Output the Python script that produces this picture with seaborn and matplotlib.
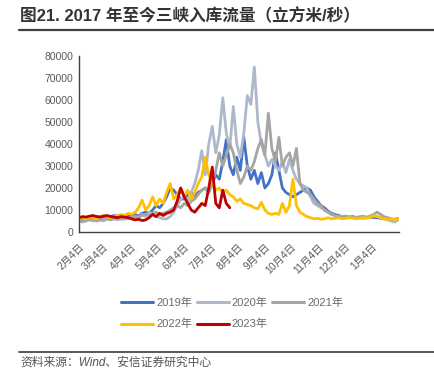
import numpy as np
import pandas as pd
import matplotlib
matplotlib.use("Agg")
import matplotlib.pyplot as plt
import seaborn as sns
from matplotlib.lines import Line2D

# ---------------- data (sampled every 4 days from Feb 4) ----------------
years = ["2019年", "2020年", "2021年", "2022年", "2023年"]
colors = ["#4472C4", "#ADB9CA", "#A5A5A5", "#FFC000", "#C00000"]
season_start = "2021-02-04"
season_end = "2022-02-04"

flow_2019 = [6000, 5500, 5800, 6200, 6500, 7000, 6800, 6300, 6500, 7000, 7500, 7200, 6800, 7000, 7300,
             7500, 8000, 7200, 8500, 9000, 8500, 10000, 12000, 11000, 13000,
             16000, 20000, 19000, 17000, 15000,
             15000, 17000, 18000, 16000, 18000, 19000, 20000, 18000, 22000, 26000, 24000,
             32000, 42000, 30000, 26000, 34000, 28000, 43000, 30000, 24000, 28000, 22000, 27000, 20000, 22000,
             26000, 36000, 28000, 20000, 18000, 17000, 16000, 17000, 18000, 19000, 20000, 19000, 16000, 14000,
             12000, 11000, 9500, 8500, 8000, 7500,
             7000, 7200, 6800, 7000, 6500, 6800, 7000, 6500, 6800, 6600, 6500, 6200, 6000, 6300, 5800, 5500, 6000]

flow_2020 = [5000, 4500, 5000, 5500, 5000, 6000, 5500, 5000, 6000, 6500, 6000, 5500, 6000, 5800, 6200,
             6500, 7000, 6500, 8000, 7000, 9000, 8000, 7000, 6500, 6000,
             6000, 7000, 9000, 12000, 15000,
             16000, 14000, 18000, 22000, 28000, 37000, 26000, 40000, 48000, 36000, 44000,
             61000, 45000, 38000, 57000, 40000, 34000, 45000, 62000, 58000, 75000, 50000, 40000, 35000, 30000,
             33000, 30000, 28000, 32000, 27000, 33000, 28000, 24000, 22000, 21000, 20000, 16000, 13000, 12000,
             11000, 10000, 9000, 8000, 7500, 7000,
             7200, 6800, 7000, 6500, 6800, 6500, 6200, 6500, 6800, 7200, 7000, 6500, 6000, 5500, 5000, 4500, 5500]

flow_2021 = [5500, 5000, 5200, 5800, 5500, 5000, 5500, 6000, 5800, 5500, 6000, 6300, 6000, 6500, 6200,
             6500, 7000, 6800, 7500, 8000, 7500, 8500, 9000, 8000, 8500,
             9000, 10000, 11000, 12000, 11000,
             13000, 12000, 14000, 15000, 17000, 19000, 20000, 18000, 22000, 28000, 36000,
             30000, 35000, 40000, 36000, 28000, 22000, 25000, 30000, 28000, 32000, 38000, 42000, 35000, 54000,
             38000, 32000, 43000, 30000, 34000, 36000, 30000, 38000, 22000, 19000, 18000, 17000, 15000, 13000,
             12000, 10000, 9000, 8000, 7500, 7000,
             6800, 7000, 6500, 6800, 6500, 6800, 7000, 6800, 7200, 8000, 9000, 8000, 7000, 6500, 6000, 5800, 6200]

flow_2022 = [6000, 6500, 6000, 7000, 6500, 6000, 7000, 7500, 7000, 6500, 7000, 7500, 8000, 7500, 8500,
             8000, 9000, 11000, 14500, 10000, 12000, 16000, 12000, 15000, 13000,
             18000, 22000, 15000, 17000, 20000,
             16000, 19000, 15000, 18000, 22000, 25000, 34000, 26000, 22000, 19000, 20000,
             18000, 19000, 17000, 16000, 14000, 15000, 13000, 12500, 12000, 11000, 10500, 13500, 10000, 8500,
             8000, 8500, 8000, 13000, 9000, 12000, 24000, 12000, 9000, 8000, 7000, 6500, 6000, 6200,
             5800, 6000, 6500, 6000, 6200, 6500,
             6000, 6200, 6500, 6300, 6000, 6200, 6500, 6300, 6800, 7500, 7000, 6500, 6000, 5800, 6000, 5500, 6000]

flow_2023 = [6500, 7000, 6800, 7200, 7500, 7000, 6800, 7200, 7500, 7000, 6800, 6500, 7000, 6800, 6500,
             6000, 5500, 5800, 5200, 5500, 6500, 8000, 7000, 8500, 7500,
             8500, 9000, 10000, 14000, 20000,
             16000, 13000, 10000, 9000, 11000, 13000, 12000, 20000, 29500, 13000, 11000,
             19000, 13000, 11000]

series = [flow_2019, flow_2020, flow_2021, flow_2022, flow_2023]

frames = []
for yr, vals in zip(years, series):
    dates = pd.date_range(season_start, periods=len(vals), freq="4D")
    frames.append(pd.DataFrame({"date": dates, "flow": vals, "year": yr}))
df = pd.concat(frames, ignore_index=True)

# ---------------- styling ----------------
sns.set_theme(style="white")
fam = ["Liberation Sans", "Noto Sans CJK SC", "DejaVu Sans"]
plt.rcParams["font.family"] = fam
plt.rcParams["axes.unicode_minus"] = False

W, H = 434, 383
fig = plt.figure(figsize=(W / 100, H / 100), dpi=100)
ax = fig.add_axes([79 / W, 1 - 232 / H, (399 - 79) / W, (232 - 56) / H])

sns.lineplot(data=df, x="date", y="flow", hue="year", hue_order=years,
             palette=colors, linewidth=2.0, ax=ax, legend=True)

ax.set_ylim(0, 80000)
ax.set_yticks(np.arange(0, 80001, 10000))
ax.set_yticklabels([str(v) for v in range(0, 80001, 10000)])
ax.set_xlim(pd.Timestamp(season_start), pd.Timestamp(season_end))
ticks = pd.date_range(season_start, season_end, freq=pd.DateOffset(months=1))
labels = [f"{t.month}月4日" for t in ticks[:-1]] + [""]
ax.set_xticks(ticks)
ax.set_xticklabels(labels, rotation=45, ha="right", va="top", rotation_mode="anchor")
ax.set_xlabel("")
ax.set_ylabel("")

for s in ["top", "right"]:
    ax.spines[s].set_visible(False)
for s in ["left", "bottom"]:
    ax.spines[s].set_color("#404040")
    ax.spines[s].set_linewidth(1.0)
ax.tick_params(axis="both", direction="in", length=3, width=1, color="#404040",
               labelcolor="#595959", labelsize=7.5)
ax.tick_params(axis="x", pad=7)
ax.tick_params(axis="y", pad=4)
ax.grid(False)

handles, labs = ax.get_legend_handles_labels()
ax.get_legend().remove()
hmap = dict(zip(labs, handles))
order = ["2019年", "2022年", "2020年", "2023年", "2021年"]
leg = fig.legend([hmap[o] for o in order], order, ncol=3, loc="center",
                 bbox_to_anchor=(0.535, 1 - 313.5 / H), frameon=False,
                 fontsize=8, handlelength=2.9, handletextpad=0.25,
                 columnspacing=0.4, labelspacing=1.0)
for t in leg.get_texts():
    t.set_color("#6b6b6b")
for h in leg.legend_handles:
    h.set_linewidth(2.2)

# title and rules
fig.text(20 / W, 1 - 16.5 / H, "图21. 2017 年至今三峡入库流量（立方米/秒）",
         fontsize=12, fontweight="bold", color="#333333", va="center", ha="left",
         family=fam)
fig.add_artist(Line2D([19 / W, 1.0], [1 - 29.5 / H] * 2, color="#404040", lw=1.6))
fig.add_artist(Line2D([19 / W, 1.0], [1 - 351.5 / H] * 2, color="#595959", lw=1.4))
fig.text(20 / W, 1 - 363 / H, "资料来源：Wind、安信证券研究中心",
         fontsize=8.5, style="italic", color="#555555", va="center", ha="left",
         family=fam)

fig.savefig("out.png", dpi=100)
